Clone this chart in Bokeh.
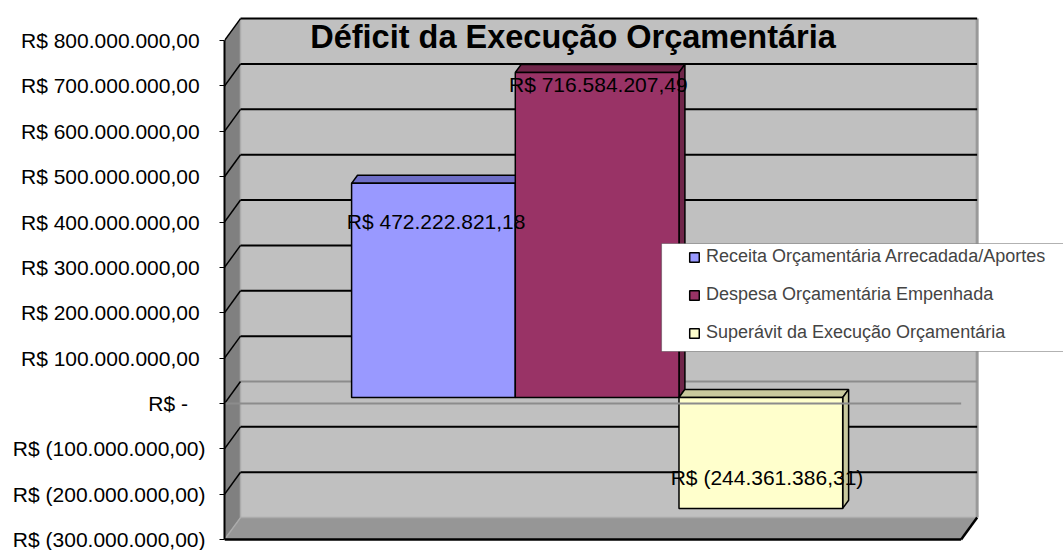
from bokeh.plotting import figure
from bokeh.models import (Range1d, LinearAxis, FixedTicker, CustomJSTickFormatter,
                          ColumnDataSource, Legend, LegendItem, BoxAnnotation, Label)
from bokeh.core.properties import value
from bokeh.embed import file_html
from bokeh.resources import INLINE

# ---------------- data ----------------
title_text = "Déficit da Execução Orçamentária"
categories = ["Receita Orçamentária Arrecadada/Aportes",
              "Despesa Orçamentária Empenhada",
              "Superávit da Execução Orçamentária"]
values = [472222821.18, 716584207.49, -244361386.31]
tick_values = [-300e6, -200e6, -100e6, 0, 100e6, 200e6, 300e6,
               400e6, 500e6, 600e6, 700e6, 800e6]

# ---------------- style ----------------
front_colors = ["#9999FF", "#993366", "#FFFFCC"]
shade_colors = ["#6E6EC6", "#6F2549", "#C9C99D"]
FONT = "Liberation Sans"

# page-pixel geometry of the reference
W, H = 1063, 550
FRAME_LEFT_PX = 224.0
ZERO_PX = 403.0
PX_PER_X = 163.7          # one bar width in px
PX_PER_Y = 45.36 / 1e8    # px per currency unit


def xd(px):
    return -1.25 + (px - FRAME_LEFT_PX) / PX_PER_X


def yd(py):
    return (ZERO_PX - py) / PX_PER_Y


DX = 16 / PX_PER_X         # depth offset (data units)
DY = 22 / PX_PER_Y
F0, F1 = 0.27, 0.64        # bar front / back depth fractions
GAP = 0.75
n = len(values)
X_L = -0.5 - GAP
X_R = n - 0.5 + GAP
Y_B = min(tick_values)
Y_T = max(tick_values)


def brl(v):
    s = f"{abs(v):,.2f}".replace(",", "X").replace(".", ",").replace("X", ".")
    return f"R$ ({s})" if v < 0 else f"R$ {s}"


p = figure(width=W, height=H,
           x_range=Range1d(xd(FRAME_LEFT_PX), xd(W)), y_range=Range1d(yd(H), yd(0)),
           x_axis_type=None, y_axis_type=None,
           toolbar_location=None, output_backend="svg",
           min_border_left=int(FRAME_LEFT_PX), min_border_right=0,
           min_border_top=0, min_border_bottom=0,
           outline_line_color=None, background_fill_color="white",
           border_fill_color="white")

fmt = CustomJSTickFormatter(code="""
const a = Math.abs(tick);
if (a < 0.5) { return "R$ -\\u00a0\\u00a0\\u00a0"; }
let parts = a.toFixed(2).split(".");
let i = parts[0].replace(/\\B(?=(\\d{3})+(?!\\d))/g, ".");
const body = i + "," + parts[1];
return tick < 0 ? "R$ (" + body + ")" : "R$ " + body + "\\u00a0";
""")

yaxis = LinearAxis(ticker=FixedTicker(ticks=tick_values), formatter=fmt,
                   bounds=(Y_B, Y_T), axis_line_width=2, axis_line_color="black",
                   major_tick_out=5, major_tick_in=0, minor_tick_out=0, minor_tick_in=0,
                   major_tick_line_color="black", major_label_standoff=14,
                   major_label_text_font=FONT, major_label_text_font_size="21px",
                   major_label_text_color="black")
p.add_layout(yaxis, "left")

# back wall
p.quad(left=[X_L + DX], right=[X_R + DX], bottom=[Y_B + DY], top=[Y_T + DY],
       fill_color="#C0C0C0", line_color=None)
# side wall
p.patch([X_L, X_L, X_L + DX, X_L + DX], [Y_B, Y_T, Y_T + DY, Y_B + DY],
        fill_color="#808080", line_color=None)
# floor
p.patch([X_L, X_R, X_R + DX, X_L + DX], [Y_B, Y_B, Y_B + DY, Y_B + DY],
        fill_color="#969696", line_color=None)
# light inner edges
p.segment(x0=[X_L + DX, X_L, X_L + DX], y0=[Y_B + DY, Y_B, Y_B + DY],
          x1=[X_R + DX, X_L + DX, X_L + DX], y1=[Y_B + DY, Y_B + DY, Y_T + DY],
          line_color="#ABABAB", line_width=1.5)
# back-wall right edge
p.segment(x0=[X_R + DX], y0=[Y_B + DY], x1=[X_R + DX], y1=[Y_T + DY],
          line_color="#999999", line_width=3)

grid_ticks = [t for t in tick_values if t != Y_B]
p.segment(x0=[X_L + DX] * len(grid_ticks), y0=[t + DY for t in grid_ticks],
          x1=[X_R + DX] * len(grid_ticks), y1=[t + DY for t in grid_ticks],
          line_color=["#8C8C8C" if t == 0 else "black" for t in grid_ticks],
          line_width=2)
p.segment(x0=[X_L] * len(grid_ticks), y0=grid_ticks,
          x1=[X_L + DX] * len(grid_ticks), y1=[t + DY for t in grid_ticks],
          line_color="black", line_width=1.5)
# floor front + right edges
p.segment(x0=[X_L, X_R], y0=[Y_B, Y_B], x1=[X_R, X_R + DX], y1=[Y_B, Y_B + DY],
          line_color="black", line_width=2.5)

legend_items = []
for i, v in enumerate(values):
    x0, x1 = i - 0.5, i + 0.5
    top, bot = max(0, v), min(0, v)
    # top face
    p.patch([x0 + F0 * DX, x1 + F0 * DX, x1 + F1 * DX, x0 + F1 * DX],
            [top + F0 * DY, top + F0 * DY, top + F1 * DY, top + F1 * DY],
            fill_color=shade_colors[i], line_color="black", line_width=1.5)
    # right side face
    p.patch([x1 + F0 * DX, x1 + F0 * DX, x1 + F1 * DX, x1 + F1 * DX],
            [bot + F0 * DY, top + F0 * DY, top + F1 * DY, bot + F1 * DY],
            fill_color=shade_colors[i], line_color="black", line_width=1.5)
    src = ColumnDataSource(dict(left=[x0 + F0 * DX], right=[x1 + F0 * DX],
                                top=[top + F0 * DY], bottom=[bot + F0 * DY]))
    r = p.quad(left="left", right="right", top="top", bottom="bottom", source=src,
               fill_color=front_colors[i], line_color="black", line_width=1.5)
    legend_items.append(LegendItem(label=categories[i], renderers=[r]))

# category axis line at zero on the front plane
p.segment(x0=[X_L], y0=[0], x1=[X_R], y1=[0], line_color="#8C8C8C", line_width=2)

# data labels
lbl_src = ColumnDataSource(dict(x=list(range(n)), y=values,
                                text=[brl(v) for v in values],
                                xo=[7, 5.5, 10.5], yo=[32, 6.5, -37]))
p.text(x="x", y="y", text="text", x_offset="xo", y_offset="yo", source=lbl_src,
       text_align="center", text_baseline="middle",
       text_font=value(FONT), text_font_size="21px", text_color="black")

# legend box + legend
p.add_layout(BoxAnnotation(left=xd(661), right=xd(1080), top=yd(243), bottom=yd(351),
                           fill_color="white", fill_alpha=1.0,
                           line_color="black", line_width=1.2))
legend = Legend(items=legend_items, location=(688 - FRAME_LEFT_PX, H - 343),
                padding=0, margin=0,
                spacing=17, glyph_width=12, glyph_height=12, label_height=20,
                label_standoff=6, label_text_font=FONT, label_text_font_size="18px",
                border_line_color=None, background_fill_alpha=0)
p.add_layout(legend)

# title
p.add_layout(Label(x=xd(572.5), y=yd(36.5), text=title_text, text_align="center",
                   text_baseline="alphabetic", text_font=FONT, text_font_size="32.5px",
                   text_font_style="bold", text_color="black"))

open("out.html", "w").write(file_html(p, INLINE))
